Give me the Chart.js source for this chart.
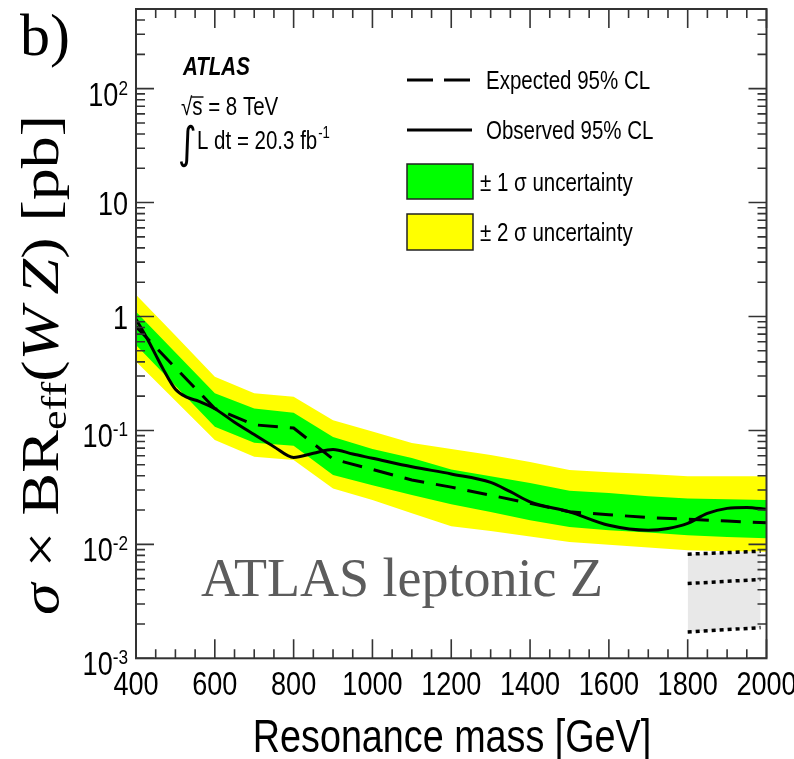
<!DOCTYPE html>
<html>
<head>
<meta charset="utf-8">
<script src="https://cdn.jsdelivr.net/npm/chart.js@4.4.1/dist/chart.umd.min.js"></script>
<style>
  html, body { margin: 0; padding: 0; background: #fff; }
  #wrap { width: 794px; height: 759px; }
</style>
</head>
<body>
<div id="wrap"><canvas id="limitChart" width="794" height="759"></canvas></div>
<script>
// mass points of the expected limit and its bands [GeV]
const massPoints = [400, 500, 600, 700, 800, 900, 1000, 1100, 1200, 1300, 1400, 1500, 1600, 1700, 1800, 1900, 2000];
const expectedLimit = [0.815, 0.355, 0.156, 0.112, 0.105, 0.056, 0.0455, 0.0367, 0.0318, 0.027, 0.0229, 0.0193, 0.0182, 0.0172, 0.0166, 0.0160, 0.0155];
const plus2Sigma = [1.55, 0.68, 0.296, 0.212, 0.198, 0.123, 0.098, 0.0775, 0.0687, 0.0608, 0.0528, 0.0449, 0.043, 0.0414, 0.0397, 0.0397, 0.0397];
const plus1Sigma = [1.10, 0.484, 0.212, 0.156, 0.143, 0.0875, 0.0687, 0.0572, 0.0455, 0.0397, 0.0345, 0.0295, 0.0282, 0.0265, 0.0253, 0.0249, 0.0245];
const minus1Sigma = [0.562, 0.247, 0.108, 0.078, 0.0734, 0.0406, 0.0331, 0.0271, 0.0225, 0.0192, 0.0163, 0.0142, 0.0133, 0.0127, 0.0120, 0.0116, 0.0113];
const minus2Sigma = [0.402, 0.182, 0.0824, 0.0588, 0.055, 0.031, 0.0245, 0.0188, 0.01445, 0.0131, 0.0117, 0.0105, 0.00994, 0.0094, 0.0089, 0.0087, 0.0086];

// observed limit (smooth curve)
const observedMass = [400, 420, 435, 450, 470, 500, 530, 560, 600, 650, 700, 750, 800, 850, 900, 950, 1000, 1100, 1200, 1300, 1350, 1400, 1500, 1600, 1700, 1750, 1800, 1850, 1900, 1950, 2000];
const observedLimit = [0.946, 0.72, 0.58, 0.46, 0.34, 0.23, 0.195, 0.18, 0.155, 0.118, 0.092, 0.072, 0.058, 0.063, 0.068, 0.062, 0.057, 0.048, 0.0415, 0.035, 0.029, 0.0236, 0.0193, 0.0147, 0.0133, 0.0138, 0.0153, 0.0187, 0.0207, 0.0211, 0.0203];

// grey "ATLAS leptonic Z" box
const boxMass = [1800, 1985];
const boxTop = [0.0082, 0.0087];
const boxMiddle = [0.00453, 0.00492];
const boxBottom = [0.0017, 0.00186];

// axes
const xTickLabels = [400, 600, 800, 1000, 1200, 1400, 1600, 1800, 2000];
const yTickExponents = [-3, -2, -1, 0, 1, 2];

const SANS = '"Liberation Sans", Arial, Helvetica, sans-serif';
const SERIF = '"Liberation Serif", "Times New Roman", serif';
const SQUEEZE = 0.82; // ROOT text in the figure is horizontally condensed

const pts = (xs, ys) => xs.map((x, i) => ({ x, y: ys[i] }));

function sansWidth(ctx, str, size, weight = '') {
  ctx.save();
  ctx.font = `${weight} ${size}px ${SANS}`;
  const w = ctx.measureText(str).width * SQUEEZE;
  ctx.restore();
  return w;
}

function sansText(ctx, str, x, y, size, align = 'left', weight = '', family = SANS) {
  ctx.save();
  ctx.font = `${weight} ${size}px ${family}`;
  const w = ctx.measureText(str).width * SQUEEZE;
  let left = x;
  if (align === 'center') left = x - w / 2;
  else if (align === 'right') left = x - w;
  ctx.translate(left, y);
  ctx.scale(SQUEEZE, 1);
  ctx.textAlign = 'left';
  ctx.textBaseline = 'alphabetic';
  ctx.fillStyle = '#000';
  ctx.fillText(str, 0, 0);
  ctx.restore();
  return w;
}

const frameAndText = {
  id: 'frameAndText',
  afterDraw(chart) {
    const { ctx, chartArea: a } = chart;
    const xs = chart.scales.x, ys = chart.scales.y;
    ctx.save();

    // frame
    ctx.strokeStyle = '#333';
    ctx.lineWidth = 2;
    ctx.strokeRect(a.left, a.top, a.right - a.left, a.bottom - a.top);

    // inward ticks
    ctx.lineWidth = 1.6;
    ctx.beginPath();
    for (let m = 400; m <= 2000; m += 50) {
      const px = xs.getPixelForValue(m);
      const len = m % 200 === 0 ? 19 : 9;
      ctx.moveTo(px, a.bottom); ctx.lineTo(px, a.bottom - len);
      ctx.moveTo(px, a.top); ctx.lineTo(px, a.top + len);
    }
    for (let e = -3; e <= 2; e++) {
      for (let k = 1; k <= 9; k++) {
        const v = k * Math.pow(10, e);
        if (v > ys.max) break;
        const py = ys.getPixelForValue(v);
        const len = k === 1 ? 18 : 9;
        ctx.moveTo(a.left, py); ctx.lineTo(a.left + len, py);
        ctx.moveTo(a.right, py); ctx.lineTo(a.right - len, py);
      }
    }
    ctx.stroke();

    // x tick labels
    xTickLabels.forEach(m => sansText(ctx, String(m), xs.getPixelForValue(m), 695, 33, 'center'));

    // y tick labels
    yTickExponents.forEach(e => {
      const py = ys.getPixelForValue(Math.pow(10, e));
      const right = 128;
      if (e === 0) sansText(ctx, '1', right, py + 12, 33, 'right');
      else if (e === 1) sansText(ctx, '10', right, py + 12, 33, 'right');
      else {
        const sup = String(e);
        const wSup = sansWidth(ctx, sup, 21);
        const wBase = sansWidth(ctx, '10', 33);
        sansText(ctx, '10', right - wSup - wBase, py + 17, 33);
        sansText(ctx, sup, right - wSup, py + 6, 21);
      }
    });

    // x title
    sansText(ctx, 'Resonance mass [GeV]', 452, 752, 46, 'center');

    // ATLAS label
    sansText(ctx, 'ATLAS', 183, 75, 25, 'left', 'italic bold');
    const wRad = sansText(ctx, '\u221A', 181, 115, 25);
    const wS = sansText(ctx, 's', 181 + wRad, 115, 25);
    ctx.strokeStyle = '#000';
    ctx.lineWidth = 1.4;
    ctx.beginPath();
    ctx.moveTo(181 + wRad - 1, 97); ctx.lineTo(181 + wRad + wS + 1, 97);
    ctx.stroke();
    sansText(ctx, ' = 8 TeV', 181 + wRad + wS, 115, 25);
    sansText(ctx, '\u222B', 178, 158, 44, 'left', '', '"DejaVu Sans", sans-serif');
    const wL = sansText(ctx, 'L dt = 20.3 fb', 197, 149, 25);
    sansText(ctx, '-1', 197 + wL + 1, 138, 16);

    // legend
    ctx.strokeStyle = '#000';
    ctx.lineWidth = 3;
    ctx.setLineDash([26, 11]);
    ctx.beginPath(); ctx.moveTo(407, 80); ctx.lineTo(471, 80); ctx.stroke();
    ctx.setLineDash([]);
    ctx.beginPath(); ctx.moveTo(407, 130); ctx.lineTo(472, 130); ctx.stroke();
    ctx.lineWidth = 1.5;
    ctx.strokeStyle = '#222';
    ctx.fillStyle = '#00ff00';
    ctx.fillRect(407, 164, 66, 35); ctx.strokeRect(407, 164, 66, 35);
    ctx.fillStyle = '#ffff00';
    ctx.fillRect(407, 214, 66, 36); ctx.strokeRect(407, 214, 66, 36);
    sansText(ctx, 'Expected 95% CL', 486, 89, 25);
    sansText(ctx, 'Observed 95% CL', 486, 139, 25);
    sansText(ctx, '\u00B1 1 \u03C3 uncertainty', 480, 191, 25);
    sansText(ctx, '\u00B1 2 \u03C3 uncertainty', 480, 241, 25);

    // panel letter
    ctx.fillStyle = '#000';
    ctx.font = `60px ${SERIF}`;
    ctx.textAlign = 'left';
    ctx.textBaseline = 'alphabetic';
    ctx.fillText('b)', 20, 55);

    // grey overlay text
    ctx.fillStyle = '#5c5c5c';
    ctx.font = `54px ${SERIF}`;
    ctx.fillText('ATLAS leptonic Z', 201, 596);

    // y title (rotated), stretched to the length it has in the figure
    ctx.save();
    ctx.translate(58, 365);
    ctx.rotate(-Math.PI / 2);
    ctx.fillStyle = '#000';
    const size = 52;
    const pieces = [
      { t: '\u03C3', f: `italic ${size}px ${SERIF}` },
      { t: ' \u00D7 ', f: `${size}px ${SERIF}` },
      { t: 'BR', f: `${size}px ${SERIF}` },
      { t: 'eff', f: `${Math.round(size * 0.7)}px ${SERIF}`, dy: 8 },
      { t: '(', f: `${size}px ${SERIF}` },
      { t: 'W', f: `italic ${size}px ${SERIF}` },
      { t: '\u2009Z', f: `italic ${size}px ${SERIF}` },
      { t: ')', f: `${size}px ${SERIF}` },
      { t: ' [pb]', f: `${size}px ${SERIF}` }
    ];
    let total = 0;
    pieces.forEach(p => { ctx.font = p.f; p.w = ctx.measureText(p.t).width; total += p.w; });
    ctx.scale(500 / total, 1);
    let cx = -total / 2;
    pieces.forEach(p => { ctx.font = p.f; ctx.fillText(p.t, cx, p.dy || 0); cx += p.w; });
    ctx.restore();

    ctx.restore();
  }
};

const ctx = document.getElementById('limitChart').getContext('2d');

const limitChart = new Chart(ctx, {
  type: 'line',
  data: {
    datasets: [
      { label: 'Observed 95% CL', data: pts(observedMass, observedLimit), borderColor: '#000', borderWidth: 3,
        pointRadius: 0, cubicInterpolationMode: 'monotone', fill: false, order: 0 },
      { label: 'Expected 95% CL', data: pts(massPoints, expectedLimit), borderColor: '#000', borderWidth: 3,
        borderDash: [20, 12], pointRadius: 0, tension: 0, fill: false, order: 1 },
      { label: '+1 sigma', data: pts(massPoints, plus1Sigma), borderWidth: 0, borderColor: 'rgba(0,0,0,0)',
        backgroundColor: '#00ff00', pointRadius: 0, tension: 0, fill: 3, order: 2 },
      { label: '-1 sigma', data: pts(massPoints, minus1Sigma), borderWidth: 0, borderColor: 'rgba(0,0,0,0)',
        pointRadius: 0, tension: 0, fill: false, order: 2 },
      { label: '+2 sigma', data: pts(massPoints, plus2Sigma), borderWidth: 0, borderColor: 'rgba(0,0,0,0)',
        backgroundColor: '#ffff00', pointRadius: 0, tension: 0, fill: 5, order: 5 },
      { label: '-2 sigma', data: pts(massPoints, minus2Sigma), borderWidth: 0, borderColor: 'rgba(0,0,0,0)',
        pointRadius: 0, tension: 0, fill: false, order: 5 },
      { label: 'box top', data: pts(boxMass, boxTop), borderColor: '#000', borderWidth: 3.5, borderDash: [4, 4],
        backgroundColor: '#e8e8e8', pointRadius: 0, tension: 0, fill: 8, order: 4 },
      { label: 'box middle', data: pts(boxMass, boxMiddle), borderColor: '#000', borderWidth: 3.5, borderDash: [4, 4],
        pointRadius: 0, tension: 0, fill: false, order: 3 },
      { label: 'box bottom', data: pts(boxMass, boxBottom), borderColor: '#000', borderWidth: 3.5, borderDash: [4, 4],
        pointRadius: 0, tension: 0, fill: false, order: 3 }
    ]
  },
  options: {
    responsive: false,
    animation: false,
    events: [],
    layout: { padding: { left: 0, right: 27.5, top: 9, bottom: 0 } },
    scales: {
      x: {
        type: 'linear', min: 400, max: 2000,
        grid: { display: false }, border: { display: false }, ticks: { display: false },
        afterFit: s => { s.height = 100.7; }
      },
      y: {
        type: 'logarithmic', min: 0.001, max: 500,
        grid: { display: false }, border: { display: false }, ticks: { display: false },
        afterFit: s => { s.width = 136; }
      }
    },
    plugins: {
      legend: { display: false },
      tooltip: { enabled: false },
      filler: { propagate: false }
    }
  },
  plugins: [frameAndText]
});
</script>
</body>
</html>
